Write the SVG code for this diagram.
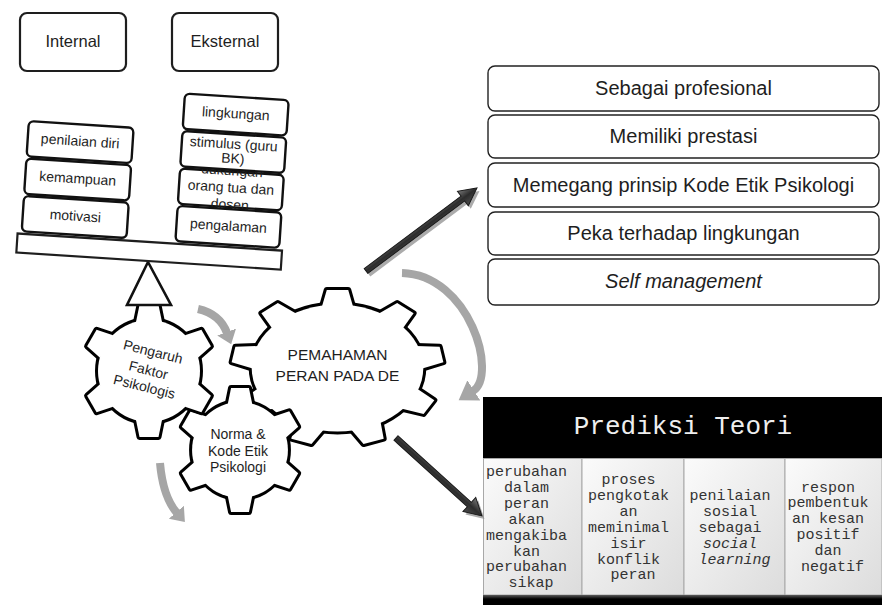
<svg xmlns="http://www.w3.org/2000/svg" width="882" height="605" viewBox="0 0 882 605">
<style>
  text { font-family: "Liberation Sans", Arial, sans-serif; fill: #1e1e1e; }
  .ctr { text-anchor: middle; }
  .head-box { fill: #fff; stroke: #1e1e1e; stroke-width: 2.2; }
  .stack { fill: #fff; stroke: #111; stroke-width: 2.4; }
  .t16 { font-size: 16.5px; }
  .t13 { font-size: 14px; }
  .t14 { font-size: 14px; }
  .t15 { font-size: 15.5px; }
  .t20 { font-size: 20px; }
  .list { fill: #fff; stroke: #222; stroke-width: 1.4; }
  .gear-edge { fill: #000; stroke: #000; stroke-width: 6; stroke-linejoin: round; }
  .gear-face { fill: #fff; stroke: none; }
  .flow { fill: none; stroke: #a6a6a6; stroke-width: 8; }
  .dark-arrow { fill: url(#shaftFill); stroke: #1a1a1a; stroke-width: 1; }
  .dark-shadow { fill: #8f8f8f; opacity: 0.75; }
  .mono { font-family: "Liberation Mono", "Courier New", monospace; }
  .cell { fill: url(#cellFill); stroke: #a8a8a8; stroke-width: 1; }
  .ct { font-size: 15px; fill: #333; }
</style>
<defs>
  <!-- six-tooth gear, radius 66 -->
  <g id="gear6">
    <circle r="51" vector-effect="non-scaling-stroke"/>
    <polygon id="tooth6" points="-13,-49 -9.5,-66 9.5,-66 13,-49" vector-effect="non-scaling-stroke"/>
    <use href="#tooth6" transform="rotate(60)"/>
    <use href="#tooth6" transform="rotate(120)"/>
    <use href="#tooth6" transform="rotate(180)"/>
    <use href="#tooth6" transform="rotate(240)"/>
    <use href="#tooth6" transform="rotate(300)"/>
  </g>
  <!-- nine-tooth gear, radius 64 (stretched where used) -->
  <g id="gear9">
    <circle r="52" vector-effect="non-scaling-stroke"/>
    <polygon id="tooth9" points="-9.5,-50 -6.5,-64 6.5,-64 9.5,-50" vector-effect="non-scaling-stroke"/>
    <use href="#tooth9" transform="rotate(40)"/>
    <use href="#tooth9" transform="rotate(80)"/>
    <use href="#tooth9" transform="rotate(120)"/>
    <use href="#tooth9" transform="rotate(160)"/>
    <use href="#tooth9" transform="rotate(200)"/>
    <use href="#tooth9" transform="rotate(240)"/>
    <use href="#tooth9" transform="rotate(280)"/>
    <use href="#tooth9" transform="rotate(320)"/>
  </g>
  <marker id="tip-grey" markerUnits="userSpaceOnUse" markerWidth="14" markerHeight="22" refX="1" refY="11" orient="auto">
    <path d="M0,1 L13,11 L0,21 Z" fill="#a6a6a6"/>
  </marker>
  <marker id="tip-grey-lg" markerUnits="userSpaceOnUse" markerWidth="20" markerHeight="26" refX="1" refY="13" orient="auto">
    <path d="M0,1 L18,13 L0,25 Z" fill="#a6a6a6"/>
  </marker>
  <linearGradient id="shaftFill" x1="0" y1="0" x2="0" y2="1">
    <stop offset="0" stop-color="#7a7a7a"/>
    <stop offset="0.5" stop-color="#2c2c2c"/>
    <stop offset="1" stop-color="#4c4c4c"/>
  </linearGradient>
  <linearGradient id="cellFill" x1="0" y1="0" x2="1" y2="1">
    <stop offset="0" stop-color="#fbfbfb"/>
    <stop offset="1" stop-color="#dcdcdc"/>
  </linearGradient>
  <linearGradient id="barFill" x1="0" y1="0" x2="0" y2="1">
    <stop offset="0" stop-color="#5a5a5a"/>
    <stop offset="0.4" stop-color="#000"/>
    <stop offset="1" stop-color="#000"/>
  </linearGradient>
  <polygon id="arrowLong" points="0,-3 121,-3 121,-9 138.6,0 121,9 121,3 0,3"/>
  <polygon id="arrowShort" points="0,-3 99,-3 99,-9.5 116,0 99,9.5 99,3 0,3"/>
</defs>

<!-- factor headings -->
<g id="internal">
  <rect class="head-box" x="20" y="13" width="106" height="58" rx="7"/>
  <text class="ctr t16" x="73" y="47">Internal</text>
</g>
<g id="eksternal">
  <rect class="head-box" x="172" y="13" width="106" height="58" rx="7"/>
  <text class="ctr t16" x="225" y="47">Eksternal</text>
</g>

<!-- gears -->
<g id="gear-pemahaman">
  <g transform="translate(337.5 368) scale(1.65 1.22)">
    <use href="#gear9" class="gear-edge"/>
    <use href="#gear9" class="gear-face"/>
  </g>
  <text class="ctr t15" x="337.5" y="360">PEMAHAMAN</text>
  <text class="ctr t15" x="337.5" y="381">PERAN PADA DE</text>
</g>
<g id="gear-norma">
  <g transform="translate(240 450) scale(0.94)">
    <use href="#gear6" class="gear-edge"/>
    <use href="#gear6" class="gear-face"/>
  </g>
  <text class="ctr t14" x="238" y="439">Norma &amp;</text>
  <text class="ctr t14" x="238" y="456">Kode Etik</text>
  <text class="ctr t14" x="238" y="472">Psikologi</text>
</g>
<g id="gear-pengaruh">
  <g transform="translate(149 371)">
    <use href="#gear6" class="gear-edge"/>
    <use href="#gear6" class="gear-face"/>
  </g>
  <g transform="translate(148.5 370) rotate(14)">
    <text class="ctr t14" x="0" y="-14">Pengaruh</text>
    <text class="ctr t14" x="0" y="5">Faktor</text>
    <text class="ctr t14" x="0" y="22">Psikologis</text>
  </g>
</g>

<!-- balance: pivot and tilted plank with stacked factors -->
<g id="pivot">
  <polygon points="148,262 127,305 171,305" fill="#fff" stroke="#111" stroke-width="2.6" stroke-linejoin="miter"/>
</g>
<g id="balance" transform="rotate(3.7 148 262)">
  <g id="plank">
    <rect class="head-box" x="16" y="242" width="265" height="19"/>
  </g>
  <g id="penilaian-diri">
    <rect class="stack" x="20" y="129" width="105" height="35.5" rx="5"/>
    <text class="ctr t13" x="72.5" y="150.5">penilaian diri</text>
  </g>
  <g id="kemampuan">
    <rect class="stack" x="20" y="166.5" width="105" height="35.5" rx="5"/>
    <text class="ctr t13" x="72.5" y="188">kemampuan</text>
  </g>
  <g id="motivasi">
    <rect class="stack" x="20" y="204" width="105" height="35.5" rx="5"/>
    <text class="ctr t13" x="72.5" y="225.5">motivasi</text>
  </g>
  <g id="dukungan">
    <rect class="stack" x="174" y="166.5" width="104" height="35.5" rx="5"/>
    <text class="ctr t13" x="226" y="170">dukungan</text>
    <text class="ctr t13" x="226" y="187">orang tua dan</text>
    <text class="ctr t13" x="226" y="204">dosen</text>
  </g>
  <g id="lingkungan">
    <rect class="stack" x="174" y="91.5" width="104" height="35.5" rx="5"/>
    <text class="ctr t13" x="226" y="113">lingkungan</text>
  </g>
  <g id="stimulus">
    <rect class="stack" x="174" y="129" width="104" height="35.5" rx="5"/>
    <text class="ctr t13" x="226" y="143.5">stimulus (guru</text>
    <text class="ctr t13" x="226" y="158">BK)</text>
  </g>
  <g id="pengalaman">
    <rect class="stack" x="174" y="204" width="104" height="35.5" rx="5"/>
    <text class="ctr t13" x="226" y="225.5">pengalaman</text>
  </g>
</g>

<!-- role outcomes -->
<g id="sebagai-profesional">
  <rect class="list" x="488" y="66" width="391" height="45" rx="7"/>
  <text class="ctr t20" x="683.5" y="95">Sebagai profesional</text>
</g>
<g id="memiliki-prestasi">
  <rect class="list" x="488" y="115" width="391" height="43" rx="7"/>
  <text class="ctr t20" x="683.5" y="143">Memiliki prestasi</text>
</g>
<g id="kode-etik">
  <rect class="list" x="488" y="163" width="391" height="44" rx="7"/>
  <text class="ctr t20" x="683.5" y="191.5">Memegang prinsip Kode Etik Psikologi</text>
</g>
<g id="peka-lingkungan">
  <rect class="list" x="488" y="212" width="391" height="43" rx="7"/>
  <text class="ctr t20" x="683.5" y="239.5">Peka terhadap lingkungan</text>
</g>
<g id="self-management">
  <rect class="list" x="488" y="259" width="391" height="46" rx="7"/>
  <text class="ctr t20" x="683.5" y="287.5" font-style="italic">Self management</text>
</g>

<!-- theory predictions -->
<g id="prediksi-teori">
  <rect x="483" y="397" width="399" height="61" fill="#000"/>
  <text class="mono ctr" x="683" y="434" font-size="26" style="fill:#eeeeee">Prediksi Teori</text>
  <rect class="cell" x="483.5" y="458.5" width="98.5" height="136.5"/>
  <rect class="cell" x="582" y="458.5" width="102" height="136.5"/>
  <rect class="cell" x="684" y="458.5" width="101" height="136.5"/>
  <rect class="cell" x="785" y="458.5" width="97" height="136.5"/>
  <rect x="483" y="595" width="399" height="10" fill="url(#barFill)"/>
  <text class="mono ct ctr" x="531" y="476">
    <tspan x="531" dy="0">perubahan</tspan>
    <tspan x="531" dy="15.9">dalam</tspan>
    <tspan x="531" dy="15.9">peran</tspan>
    <tspan x="531" dy="15.9">akan</tspan>
    <tspan x="531" dy="15.9">mengakiba</tspan>
    <tspan x="531" dy="15.9">kan</tspan>
    <tspan x="531" dy="15.9">perubahan</tspan>
    <tspan x="531" dy="15.9">sikap</tspan>
  </text>
  <text class="mono ct ctr" x="633" y="484">
    <tspan x="633" dy="0">proses</tspan>
    <tspan x="633" dy="15.9">pengkotak</tspan>
    <tspan x="633" dy="15.9">an</tspan>
    <tspan x="633" dy="15.9">meminimal</tspan>
    <tspan x="633" dy="15.9">isir</tspan>
    <tspan x="633" dy="15.9">konflik</tspan>
    <tspan x="633" dy="15.9">peran</tspan>
  </text>
  <text class="mono ct ctr" x="734.5" y="500">
    <tspan x="734.5" dy="0">penilaian</tspan>
    <tspan x="734.5" dy="15.9">sosial</tspan>
    <tspan x="734.5" dy="15.9">sebagai</tspan>
    <tspan x="734.5" dy="15.9" font-style="italic">social</tspan>
    <tspan x="734.5" dy="15.9" font-style="italic">learning</tspan>
  </text>
  <text class="mono ct ctr" x="832.5" y="491.5">
    <tspan x="832.5" dy="0">respon</tspan>
    <tspan x="832.5" dy="15.9">pembentuk</tspan>
    <tspan x="832.5" dy="15.9">an kesan</tspan>
    <tspan x="832.5" dy="15.9">positif</tspan>
    <tspan x="832.5" dy="15.9">dan</tspan>
    <tspan x="832.5" dy="15.9">negatif</tspan>
  </text>
</g>

<!-- connectors -->
<g id="connectors">
  <path class="flow" d="M198 309 Q220 314 227 333" marker-end="url(#tip-grey)"/>
  <path class="flow" d="M402 273 C470 275 498 375 473 391" marker-end="url(#tip-grey-lg)"/>
  <path class="flow" d="M160 463 Q163 497 177 513" marker-end="url(#tip-grey)"/>
  <g transform="translate(368.5 274) rotate(-36.8)">
    <use href="#arrowLong" class="dark-shadow"/>
  </g>
  <g transform="translate(366 271) rotate(-36.8)">
    <use href="#arrowLong" class="dark-arrow"/>
  </g>
  <g transform="translate(398.5 441) rotate(42.2)">
    <use href="#arrowShort" class="dark-shadow"/>
  </g>
  <g transform="translate(396 438) rotate(42.2)">
    <use href="#arrowShort" class="dark-arrow"/>
  </g>
</g>
</svg>
